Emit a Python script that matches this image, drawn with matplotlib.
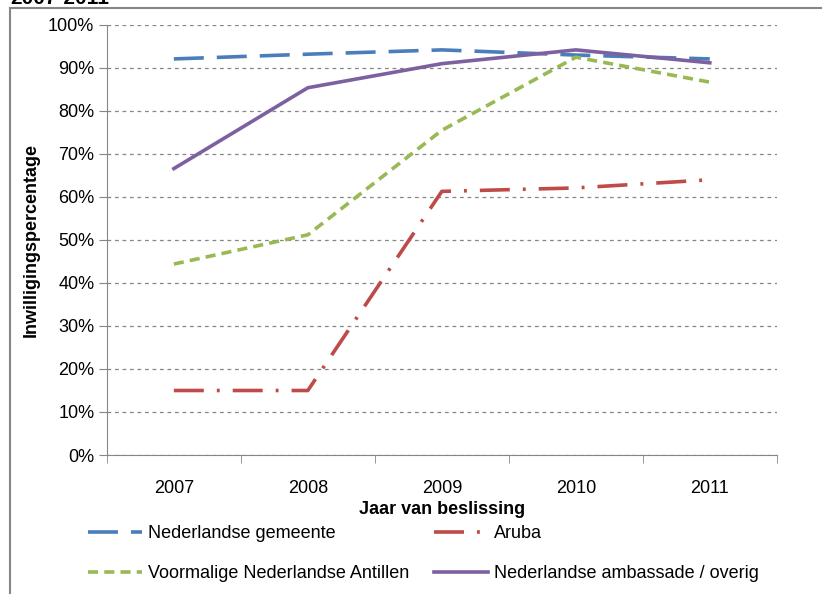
import matplotlib.pyplot as plt
from matplotlib.lines import Line2D
from matplotlib.ticker import FixedLocator, FuncFormatter

plt.rcParams['font.family'] = ['Liberation Sans Narrow', 'Liberation Sans', 'DejaVu Sans']

# data
years = ['2007', '2008', '2009', '2010', '2011']
gemeente = [92.1, 93.2, 94.2, 93.0, 92.1]
aruba = [15.0, 15.0, 61.3, 62.1, 64.0]
antillen = [44.4, 51.2, 75.5, 92.5, 86.7]
ambassade = [66.6, 85.4, 91.0, 94.2, 91.2]

fig = plt.figure(figsize=(8.22, 5.94), dpi=100)
ax = fig.add_axes([0.130, 0.234, 0.815, 0.724])

x = list(range(len(years)))
l1, = ax.plot(x, gemeente, color='#4a7ebb', lw=2.6, dashes=(8.3, 3.6), label='Nederlandse gemeente')
l2, = ax.plot(x, aruba, color='#be4b48', lw=2.6, dashes=(8.3, 3.6, 0.8, 3.6), label='Aruba')
l3, = ax.plot(x, antillen, color='#98b954', lw=2.6, dashes=(2.8, 1.7), label='Voormalige Nederlandse Antillen')
l4, = ax.plot(x, ambassade, color='#7d60a0', lw=2.6, label='Nederlandse ambassade / overig')

ax.set_xlim(-0.5, len(years) - 0.5)
ax.set_ylim(0, 100)
ax.set_xticks(x)
ax.set_xticklabels(years, fontsize=13)
ax.xaxis.set_minor_locator(FixedLocator([i - 0.5 for i in range(len(years) + 1)]))
ax.tick_params(axis='x', which='major', length=0, pad=18)
ax.tick_params(axis='x', which='minor', length=6, color='#868686')
ax.set_yticks(range(0, 101, 10))
ax.yaxis.set_major_formatter(FuncFormatter(lambda v, p: f'{int(v)}%'))
ax.tick_params(axis='y', length=6, color='#868686', labelsize=13, pad=3)
ax.grid(axis='y', color='#868686', ls=(0, (3, 3)), lw=0.9)
ax.set_axisbelow(True)
for s in ['top', 'right']:
    ax.spines[s].set_visible(False)
for s in ['left', 'bottom']:
    ax.spines[s].set_color('#868686')

ax.set_ylabel('Inwilligingspercentage', fontsize=13, fontweight='bold', labelpad=6)
ax.set_xlabel('Jaar van beslissing', fontsize=13, fontweight='bold', labelpad=3)

fig.legend([l1, l3, l2, l4], [l.get_label() for l in (l1, l3, l2, l4)],
           loc='upper left', bbox_to_anchor=(88 / 822, 1 - 525 / 594), ncol=2, frameon=False,
           fontsize=13, handlelength=3.0, handletextpad=0.3, columnspacing=1.4,
           labelspacing=1.3, borderaxespad=0, borderpad=0)

# outer chart border and clipped title
fig.add_artist(Line2D([0.012, 0.012], [0, 0.987], color='#868686', lw=1.5))
fig.add_artist(Line2D([0.012, 1], [0.987, 0.987], color='#868686', lw=1.5))
fig.text(0.012, 0.994, '2007-2011', fontsize=15, fontweight='bold', va='baseline')

fig.savefig('out.png', dpi=100)
